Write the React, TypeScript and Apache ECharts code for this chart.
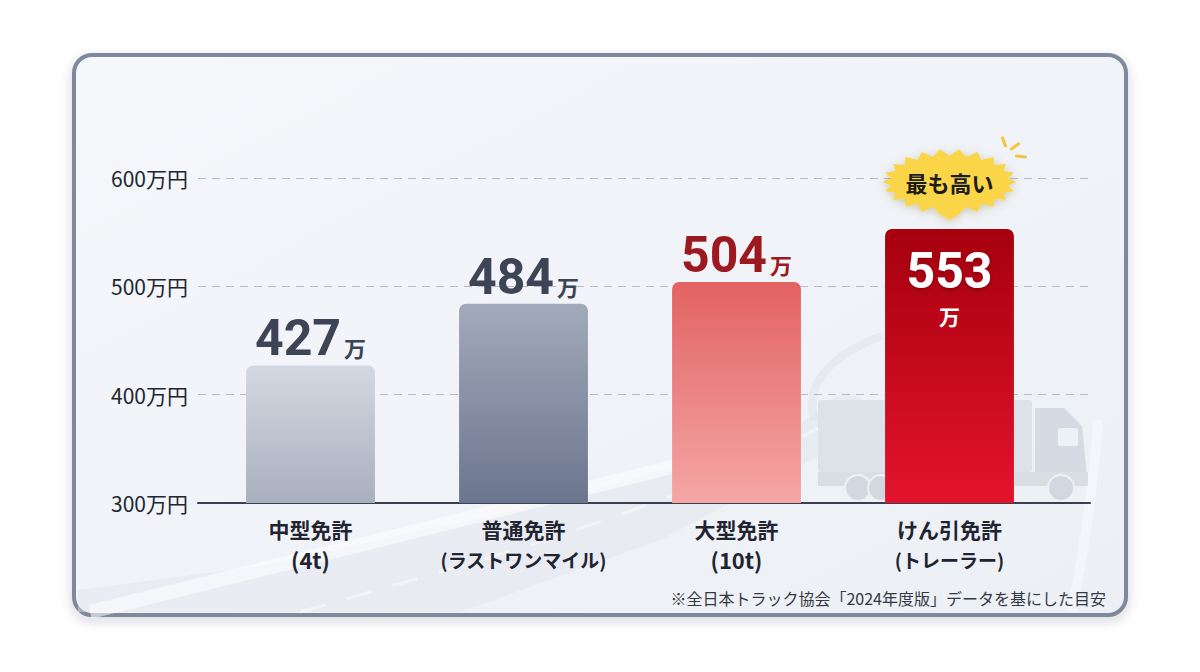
import React, { useEffect, useRef } from "react";
import * as echarts from "echarts";

const categories = ["中型免許\n(4t)", "普通免許\n(ラストワンマイル)", "大型免許\n(10t)", "けん引免許\n(トレーラー)"];
const values = [427, 484, 504, 553];
const yTicks = [300, 400, 500, 600];
const unitLabel = "万";
const axisUnit = "万円";
const badgeText = "最も高い";
const footnote = "※全日本トラック協会「2024年度版」データを基にした目安";

const FONT = "'Noto Sans CJK JP', 'Noto Sans', sans-serif";
const NUM_FONT = "Roboto, 'Noto Sans', sans-serif";

const barGradients = [
  ["#d4d8e1", "#a8afbe"],
  ["#a2aaba", "#6b758e"],
  ["#e36262", "#f5a6a6"],
  ["#a6000e", "#e3132d"],
];
const labelColors = ["#3c4456", "#3c4456", "#9c1a1f", "#ffffff"];

function background(): any[] {
  return [
    {
      type: "rect",
      id: "card",
      z: -20,
      shape: { x: 74, y: 55, width: 1052, height: 560, r: 18 },
      style: {
        fill: new echarts.graphic.LinearGradient(0, 0, 1, 1, [
          { offset: 0, color: "#f5f7fb" },
          { offset: 1, color: "#eceff4" },
        ]),
        stroke: "#7e899e",
        lineWidth: 4,
        shadowBlur: 12,
        shadowOffsetY: 4,
        shadowColor: "rgba(40,50,70,0.18)",
      },
    },
    {
      type: "polygon",
      id: "road",
      z: -15,
      shape: {
        points: [
          [78, 590], [78, 612], [460, 612], [660, 540], [830, 450], [862, 398],
          [842, 392], [790, 432], [560, 500], [260, 566],
        ],
      },
      style: { fill: "rgba(224,228,235,0.45)" },
    },
    {
      type: "bezierCurve",
      id: "roadstripe",
      z: -14,
      shape: { x1: 90, y1: 612, cpx1: 300, cpy1: 560, cpx2: 520, cpy2: 505, x2: 720, y2: 455 },
      style: { stroke: "rgba(255,255,255,0.55)", lineWidth: 14, fill: "none" },
    },
    {
      type: "bezierCurve",
      id: "roadline",
      z: -14,
      shape: { x1: 300, y1: 612, cpx1: 500, cpy1: 555, cpx2: 690, cpy2: 505, x2: 850, y2: 410 },
      style: { stroke: "rgba(255,255,255,0.45)", lineWidth: 3, fill: "none", lineDash: [26, 22] },
    },
    {
      type: "bezierCurve",
      id: "roadloop",
      z: -14,
      shape: { x1: 814, y1: 420, cpx1: 802, cpy1: 372, cpx2: 850, cpy2: 348, x2: 882, y2: 336 },
      style: { stroke: "rgba(220,224,232,0.45)", lineWidth: 8, fill: "none" },
    },
    {
      type: "bezierCurve",
      id: "roadright",
      z: -14,
      shape: { x1: 1072, y1: 612, cpx1: 1086, cpy1: 540, cpx2: 1094, cpy2: 480, x2: 1098, y2: 420 },
      style: { stroke: "rgba(255,255,255,0.4)", lineWidth: 10, fill: "none" },
    },
    {
      type: "rect",
      id: "trailer",
      z: -12,
      shape: { x: 818, y: 400, width: 214, height: 72, r: 3 },
      style: { fill: "#dde1e8" },
    },
    {
      type: "polygon",
      id: "cab",
      z: -12,
      shape: { points: [[1035, 408], [1064, 408], [1082, 426], [1088, 486], [1035, 486]] },
      style: { fill: "#d6dbe3" },
    },
    {
      type: "rect",
      id: "window",
      z: -11,
      shape: { x: 1058, y: 428, width: 20, height: 18, r: 2 },
      style: { fill: "#edf0f4" },
    },
    {
      type: "rect",
      id: "chassis",
      z: -12,
      shape: { x: 818, y: 472, width: 270, height: 14 },
      style: { fill: "#d9dde4" },
    },
    ...[858, 881, 1061].map((cx, i) => ({
      type: "circle",
      id: "wheel" + i,
      z: -11,
      shape: { cx, cy: 488, r: 13 },
      style: { fill: "#d3d8e0", stroke: "#eef0f4", lineWidth: 2 },
    })),
    {
      type: "text",
      id: "footnote",
      z: 10,
      style: {
        x: 1106,
        y: 598,
        text: footnote,
        align: "right",
        verticalAlign: "middle",
        fontSize: 16,
        fontFamily: FONT,
        fill: "#333a45",
      },
    },
  ];
}

function badge(cx: number, cy: number): any[] {
  const N = 22;
  const pts: number[][] = [];
  for (let i = 0; i < 2 * N; i++) {
    const a = (i * Math.PI) / N;
    if (i === N / 2) {
      pts.push([cx, cy + 38]);
      continue;
    }
    const rx = i % 2 === 0 ? 67 : 59;
    const ry = i % 2 === 0 ? 33 : 26;
    pts.push([cx + rx * Math.cos(a), cy + ry * Math.sin(a)]);
  }
  const ray = (x1: number, y1: number, x2: number, y2: number, id: string) => ({
    type: "line",
    id,
    z: 50,
    shape: { x1: cx + x1, y1: cy + y1, x2: cx + x2, y2: cy + y2 },
    style: { stroke: "#f2c53a", lineWidth: 3, lineCap: "round" },
  });
  return [
    {
      type: "polygon",
      id: "badge",
      z: 50,
      shape: { points: pts },
      style: {
        fill: "#f9d547",
        shadowBlur: 8,
        shadowOffsetY: 2,
        shadowColor: "rgba(120,90,0,0.28)",
      },
    },
    {
      type: "text",
      id: "badgeText",
      z: 51,
      style: {
        x: cx,
        y: cy,
        text: badgeText,
        align: "center",
        verticalAlign: "middle",
        fontSize: 22,
        fontWeight: "bold",
        fontFamily: FONT,
        fill: "#1c1c1c",
      },
    },
    ray(53, -44, 56, -36, "ray1"),
    ray(62, -33, 69, -38, "ray2"),
    ray(67, -26, 76, -25, "ray3"),
  ];
}

const hasKana = (s: string) => /[\u30a0-\u30ff]/.test(s);

export default function App() {
  const ref = useRef<HTMLDivElement>(null);

  useEffect(() => {
    if (!ref.current) return;
    const chart = echarts.init(ref.current, null, { renderer: "svg" });
    const yMin = yTicks[0];
    const yMax = yTicks[yTicks.length - 1];
    const interval = yTicks[1] - yTicks[0];
    const maxIdx = values.indexOf(Math.max(...values));

    const option: any = {
      animation: false,
      textStyle: { fontFamily: FONT },
      grid: [
        { left: 198, width: 892, top: 178, height: 325 },
        { left: 204, width: 852, top: 178, height: 325 },
      ],
      xAxis: [
        {
          type: "value",
          gridIndex: 0,
          min: 0,
          max: 1,
          axisLine: { show: true, onZero: false, lineStyle: { color: "#3a404f", width: 2 } },
          axisTick: { show: false },
          axisLabel: { show: false },
          splitLine: { show: false },
        },
        {
          type: "category",
          gridIndex: 1,
          data: categories,
          axisLine: { show: false },
          axisTick: { show: false },
          axisLabel: {
            interval: 0,
            margin: 11,
            color: "#1f2430",
            fontFamily: FONT,
            formatter: (v: string) => {
              const [a, b] = v.split("\n");
              return "{m|" + a + "}\n{" + (hasKana(b) ? "k" : "s") + "|" + b + "}";
            },
            rich: {
              m: { fontSize: 21, fontWeight: "bold", lineHeight: 30, color: "#1f2430", fontFamily: FONT },
              s: { fontSize: 22, fontWeight: "bold", lineHeight: 30, color: "#1f2430", fontFamily: FONT },
              k: { fontSize: 19, fontWeight: "bold", lineHeight: 30, color: "#1f2430", fontFamily: FONT },
            },
          },
        },
      ],
      yAxis: [
        {
          type: "value",
          gridIndex: 0,
          min: yMin,
          max: yMax,
          interval,
          axisLine: { show: false },
          axisTick: { show: false },
          axisLabel: {
            margin: 10,
            fontSize: 21,
            color: "#222630",
            fontFamily: FONT,
            formatter: (v: number) => v + axisUnit,
          },
          splitLine: {
            show: true,
            lineStyle: { color: "#b6bbc6", width: 1, type: [8, 6] },
          },
        },
        {
          type: "value",
          gridIndex: 1,
          min: yMin,
          max: yMax,
          interval,
          show: false,
          splitLine: { show: false },
        },
      ],
      series: [
        {
          type: "bar",
          xAxisIndex: 1,
          yAxisIndex: 1,
          barWidth: "60.5%",
          z: 5,
          data: values.map((v, i) => {
            const isMax = i === maxIdx;
            return {
              value: v,
              itemStyle: {
                borderRadius: [7, 7, 0, 0],
                color: new echarts.graphic.LinearGradient(0, 0, 0, 1, [
                  { offset: 0, color: barGradients[i][0] },
                  { offset: 1, color: barGradients[i][1] },
                ]),
              },
              label: isMax
                ? {
                    show: true,
                    position: "insideTop",
                    distance: 14,
                    formatter: "{w|{c}}\n{wu|" + unitLabel + "}",
                    rich: {
                      w: {
                        fontSize: 50,
                        fontWeight: "bold",
                        color: "#ffffff",
                        lineHeight: 56,
                        align: "center",
                        fontFamily: NUM_FONT,
                        textShadowColor: "rgba(60,0,0,0.35)",
                        textShadowBlur: 4,
                        textShadowOffsetY: 2,
                      },
                      wu: {
                        fontSize: 21,
                        fontWeight: "bold",
                        color: "#ffffff",
                        lineHeight: 34,
                        align: "center",
                        fontFamily: FONT,
                      },
                    },
                  }
                : {
                    show: true,
                    position: "top",
                    distance: 2,
                    formatter: "{v|{c}}{u|" + unitLabel + "}",
                    rich: {
                      v: {
                        fontSize: 50,
                        fontWeight: "bold",
                        color: labelColors[i],
                        lineHeight: 52,
                        verticalAlign: "bottom",
                        fontFamily: NUM_FONT,
                      },
                      u: {
                        fontSize: 22,
                        fontWeight: "bold",
                        color: labelColors[i],
                        lineHeight: 24,
                        verticalAlign: "bottom",
                        padding: [0, 0, 5, 3],
                        fontFamily: FONT,
                      },
                    },
                  },
            };
          }),
        },
      ],
      graphic: { elements: background() },
    };

    chart.setOption(option);
    const p = chart.convertToPixel({ gridIndex: 1 }, [maxIdx, values[maxIdx]]) as number[];
    chart.setOption({ graphic: { elements: [...background(), ...badge(p[0], p[1] - 47)] } });

    return () => chart.dispose();
  }, []);

  return (
    <div
      ref={ref}
      style={{ position: "fixed", left: 0, top: 0, width: 1200, height: 672, background: "#ffffff" }}
    />
  );
}
